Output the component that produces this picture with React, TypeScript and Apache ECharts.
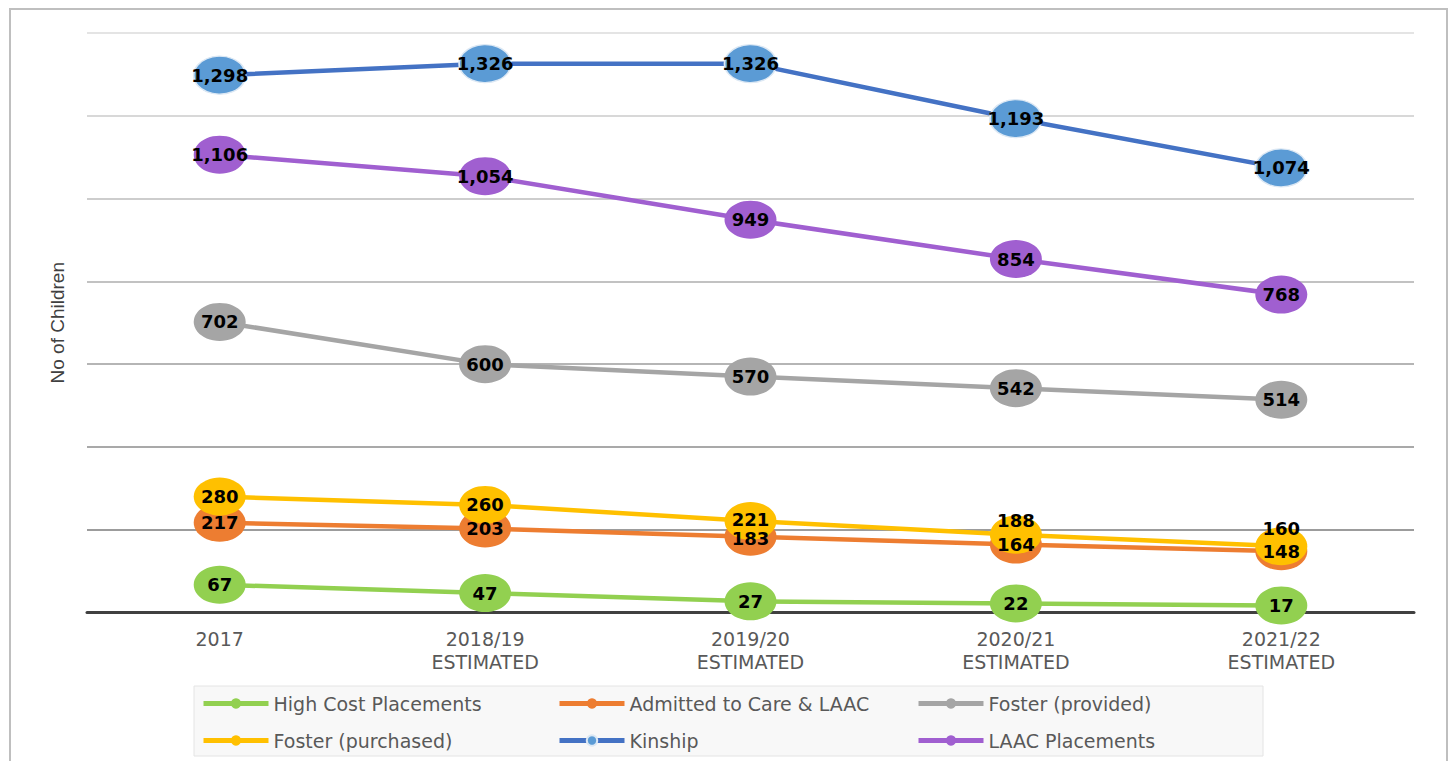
import React, { useEffect, useRef } from "react";
import * as echarts from "echarts";

const categories = ["2017", "2018/19\nESTIMATED", "2019/20\nESTIMATED", "2020/21\nESTIMATED", "2021/22\nESTIMATED"];
const highCost = [67, 47, 27, 22, 17];
const admitted = [217, 203, 183, 164, 148];
const fosterProvided = [702, 600, 570, 542, 514];
const fosterPurchased = [280, 260, 221, 188, 160];
const kinship = [1298, 1326, 1326, 1193, 1074];
const laac = [1106, 1054, 949, 854, 768];
const purchasedLabelOffsets = [0, 0, -2, -14, -18];
const admittedLabelOffsets = [0, 0, 2, 0, 0];

const seriesDefs = [
  { name: "High Cost Placements", data: highCost, line: "#92d050", marker: "#92d050", offsets: null as number[] | null },
  { name: "Admitted to Care & LAAC", data: admitted, line: "#ed7d31", marker: "#ed7d31", offsets: admittedLabelOffsets },
  { name: "Foster (provided)", data: fosterProvided, line: "#a5a5a5", marker: "#a5a5a5", offsets: null },
  { name: "Foster (purchased)", data: fosterPurchased, line: "#ffc000", marker: "#ffc000", offsets: purchasedLabelOffsets },
  { name: "Kinship", data: kinship, line: "#4472c4", marker: "#5b9bd5", offsets: null },
  { name: "LAAC Placements", data: laac, line: "#a05fd0", marker: "#a05fd0", offsets: null },
];

const legendCols = [201, 557, 916];
const legendRows = [694, 731];

const fmt = (v: number) => v.toLocaleString("en-US");

export default function App() {
  const ref = useRef<HTMLDivElement>(null);
  useEffect(() => {
    if (!ref.current) return;
    const chart = echarts.init(ref.current, undefined, { renderer: "svg" });
    const legends = seriesDefs.map((s, i) => ({
      data: [s.name],
      left: legendCols[i % 3],
      top: legendRows[Math.floor(i / 3)],
      itemWidth: 65,
      itemHeight: 13,
      padding: 0,
      lineStyle: { width: 5 },
      textStyle: { fontFamily: "DejaVu Sans", fontSize: 19, color: "#595959" },
      z: 5,
    }));
    chart.setOption({
      animation: false,
      backgroundColor: "#ffffff",
      graphic: [
        {
          type: "rect",
          z: 0,
          shape: { x: 10, y: 9, width: 1437, height: 800 },
          style: { fill: "none", stroke: "#bfbfbf", lineWidth: 2 },
        },
        {
          type: "rect",
          z: 0,
          shape: { x: 194, y: 686, width: 1069, height: 70 },
          style: { fill: "#f8f8f8", stroke: "#e4e4e4", lineWidth: 1 },
        },
      ],
      grid: { left: 87, right: 36, top: 33, bottom: 148.5, containLabel: false },
      legend: legends,
      xAxis: {
        type: "category",
        data: categories,
        boundaryGap: true,
        axisTick: { show: false },
        axisLine: { lineStyle: { color: "#404040", width: 3 } },
        axisLabel: {
          fontFamily: "DejaVu Sans",
          fontSize: 19,
          color: "#595959",
          lineHeight: 23,
          margin: 15,
        },
      },
      yAxis: {
        type: "value",
        min: 0,
        max: 1400,
        interval: 200,
        axisLabel: { show: false },
        axisTick: { show: false },
        axisLine: { show: false },
        splitLine: {
          lineStyle: {
            width: 2,
            color: ["#404040", "#9c9c9c", "#a9a9a9", "#b5b5b5", "#c2c2c2", "#cdcdcd", "#d8d8d8", "#e4e4e4"],
          },
        },
        name: "No of Children",
        nameLocation: "middle",
        nameRotate: 90,
        nameGap: 20,
        nameTextStyle: { fontFamily: "Liberation Sans", fontSize: 19, color: "#404040" },
      },
      series: seriesDefs.map((s) => ({
        name: s.name,
        type: "line",
        data: s.data.map((v, i) => ({
          value: v,
          label: s.offsets && s.offsets[i] !== 0 ? { offset: [0, s.offsets[i]] } : undefined,
        })),
        symbol: "circle",
        symbolSize: [52, 38],
        showAllSymbol: true,
        lineStyle: { color: s.line, width: 4.5 },
        itemStyle: {
          color: s.marker,
          borderColor: s.name === "Kinship" ? "#dce8f4" : s.marker,
          borderWidth: s.name === "Kinship" ? 1.5 : 0,
        },
        label: {
          show: true,
          position: "inside",
          formatter: (p: any) => fmt(p.value),
          fontFamily: "DejaVu Sans",
          fontWeight: "bold",
          fontSize: 18,
          lineHeight: 18,
          color: "#000000",
        },
        emphasis: { disabled: true },
      })),
    });
    return () => chart.dispose();
  }, []);
  return (
    <div
      ref={ref}
      style={{ position: "absolute", left: 0, top: 0, width: 1450, height: 761 }}
    />
  );
}
